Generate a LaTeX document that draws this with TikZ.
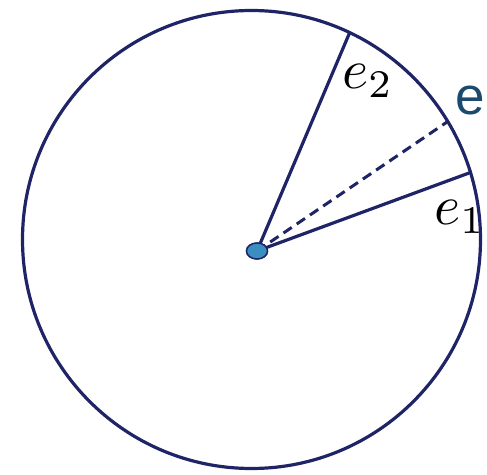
\documentclass[tikz,border=0pt]{standalone}
\usepackage{fontspec}
\usetikzlibrary{shapes.geometric}
\newfontfamily\etichettasans{Liberation Sans}
\definecolor{blunotte}{HTML}{1E2466}
\definecolor{blupunto}{HTML}{3A8FC0}
\definecolor{bluetichetta}{HTML}{1A4A6E}

\begin{document}
\begin{tikzpicture}[
  x=1pt, y=1pt,
  cerchio/.style={draw=blunotte, line width=3.2pt},
  raggio/.style={draw=blunotte, line width=3.2pt},
  tratteggio/.style={draw=blunotte, line width=3pt,
                     dash pattern=on 10pt off 6pt},
  centro/.style={ellipse, draw=blunotte, fill=blupunto, line width=1.4pt,
                 minimum width=21pt, minimum height=16pt, inner sep=0pt},
  etichetta/.style={inner sep=0pt, scale=5.6},
  grande/.style={inner sep=0pt, scale=5.3, text=bluetichetta}
]
\useasboundingbox (-257,-223) rectangle (230,251);

%--------------------------------------------------------------
% Circonferenza e punti di arrivo dei raggi
%--------------------------------------------------------------
\coordinate (C) at (-5.5,11.5);
\draw[cerchio] (C) circle (229);

\coordinate (E2) at ([shift={(64.6:228)}]C);
\coordinate (E)  at ([shift={(31.0:228)}]C);
\coordinate (E1) at ([shift={(17.0:228)}]C);

%--------------------------------------------------------------
% Raggi: e_1 ed e_2 pieni, e tratteggiato
%--------------------------------------------------------------
\node[centro] (O) at (0,0) {};
\draw[raggio] (O.center) -- (E2);
\draw[raggio] (O.center) -- (E1);
\draw[tratteggio] (O.center) -- (E);
\node[centro] at (O) {};

%--------------------------------------------------------------
% Etichette
%--------------------------------------------------------------
\node[etichetta] (lE2) at (111,170) {$e_2$};
\node[etichetta] (lE1) at (203,34)  {$e_1$};
\node[grande] (lE) at (213,150) {\etichettasans e};

\end{tikzpicture}
\end{document}
